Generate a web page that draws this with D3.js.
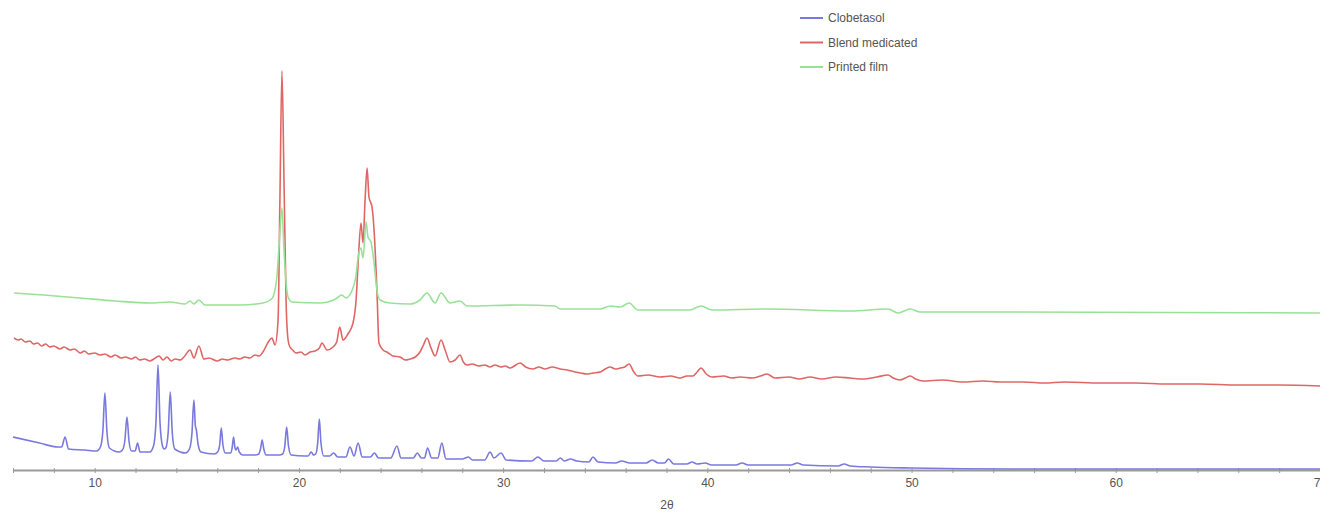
<!DOCTYPE html>
<html>
<head>
<meta charset="utf-8">
<script src="https://cdn.jsdelivr.net/npm/d3@7"></script>
<style>
	html, body { margin: 0; padding: 0; background: #fff; }
	svg { display: block; font-family: 'Liberation Sans', Arial, sans-serif; }
	.axis path, .axis line { stroke: #9a9a9a; }
	.axis text { fill: #555; font-size: 12px; }
</style>
</head>
<body>
<svg id="chart" width="1320" height="517"></svg>
<script>
// 2θ / intensity pairs
const clobetasol = [
	[6.0, 33], [7.3, 27], [8.2, 23], [8.38, 23], [8.55, 33], [8.72, 21], [9.5, 20], [10.1, 19],
	[10.28, 23], [10.4, 39], [10.5, 77], [10.6, 38], [10.72, 22], [11.2, 18],
	[11.36, 20], [11.48, 30], [11.58, 53], [11.68, 29], [11.8, 19],
	[11.98, 19], [12.1, 27], [12.22, 18], [12.7, 18],
	[12.88, 24], [13.0, 48], [13.1, 105], [13.2, 47], [13.32, 24], [13.4, 21],
	[13.48, 22], [13.6, 38], [13.7, 78], [13.8, 37], [13.92, 21], [14.45, 17],
	[14.64, 21], [14.76, 36], [14.86, 70], [14.93, 44], [14.98, 40], [15.06, 26], [15.2, 18],
	[15.85, 16], [16.02, 18], [16.12, 25], [16.2, 42], [16.28, 25], [16.4, 17],
	[16.65, 17], [16.73, 22], [16.8, 33], [16.87, 22], [16.92, 20], [17.0, 23], [17.08, 18],
	[17.25, 15], [17.85, 15], [18.03, 16], [18.12, 21], [18.2, 30], [18.28, 21], [18.4, 15],
	[19.05, 15], [19.2, 16], [19.31, 24], [19.4, 43], [19.49, 24], [19.62, 15],
	[20.3, 14], [20.45, 14], [20.6, 18], [20.72, 15], [20.82, 16], [20.92, 27], [21.0, 51],
	[21.08, 27], [21.22, 14], [21.5, 14], [21.7, 17], [21.9, 13], [22.3, 13], [22.5, 23],
	[22.7, 14], [22.9, 27], [23.1, 13], [23.5, 13], [23.7, 17], [23.9, 12], [24.5, 12],
	[24.8, 24], [25.0, 12], [25.6, 12], [25.8, 17], [26.0, 12], [26.15, 12], [26.3, 22],
	[26.5, 12], [26.8, 12], [27.0, 27], [27.2, 11], [28.0, 11], [28.3, 13], [28.5, 10],
	[29.1, 10], [29.36, 18], [29.55, 12], [29.9, 17], [30.15, 10], [31.4, 9], [31.7, 13],
	[32.0, 9], [32.6, 9], [32.8, 12], [33.0, 9], [33.3, 11], [33.6, 9], [34.2, 8],
	[34.4, 13], [34.65, 8], [35.5, 7], [35.8, 9], [36.2, 7], [37.0, 7], [37.3, 10],
	[37.6, 7], [37.9, 7], [38.1, 11], [38.35, 6], [39.0, 6], [39.25, 8], [39.5, 6],
	[39.9, 7], [40.2, 5], [41.4, 5], [41.7, 7], [42.0, 5], [44.1, 5], [44.4, 7], [44.7, 5],
	[46.4, 4], [46.7, 6], [47.0, 4], [48.0, 3], [50.0, 2], [55.0, 1], [60.0, 1], [70.0, 1]
];

const blendMedicated = [
	[6.05, 132], [6.25, 130], [6.4, 131], [6.6, 128], [6.83, 129], [7.0, 126], [7.2, 127],
	[7.4, 124], [7.6, 126], [7.8, 123], [8.0, 124], [8.3, 121], [8.5, 123], [8.8, 120],
	[9.0, 121], [9.3, 117], [9.5, 119], [9.7, 116], [10.0, 117], [10.26, 115], [10.5, 116],
	[10.8, 113], [11.0, 115], [11.3, 112], [11.5, 113], [11.8, 111], [12.0, 113],
	[12.2, 110], [12.45, 111], [12.7, 109], [12.9, 111], [13.15, 114], [13.35, 110],
	[13.54, 113], [13.75, 109], [13.93, 111], [14.2, 110], [14.37, 113], [14.67, 120],
	[14.86, 112], [15.1, 124], [15.35, 111], [15.6, 112], [16.0, 109], [16.25, 111],
	[16.5, 110], [16.87, 112], [17.1, 111], [17.35, 113], [17.6, 112], [17.85, 115],
	[18.05, 114], [18.24, 118], [18.5, 128], [18.68, 132], [18.83, 125], [18.98, 150],
	[19.07, 270], [19.17, 399], [19.27, 290], [19.37, 170], [19.47, 130], [19.56, 123],
	[19.7, 120], [19.86, 117], [20.1, 118], [20.3, 115], [20.55, 118], [20.79, 119],
	[21.0, 122], [21.13, 127], [21.38, 120], [21.67, 123], [21.85, 128], [22.0, 143],
	[22.16, 130], [22.4, 136], [22.65, 147], [22.8, 170], [22.9, 207], [23.04, 247],
	[23.14, 227], [23.24, 270], [23.34, 302], [23.43, 273], [23.58, 263], [23.68, 240],
	[23.82, 180], [23.92, 127], [24.12, 120], [24.31, 118], [24.6, 114], [24.95, 113],
	[25.2, 110], [25.44, 111], [25.7, 113], [25.93, 118], [26.1, 125], [26.27, 132],
	[26.47, 122], [26.67, 114], [26.96, 130], [27.16, 120], [27.4, 108], [27.65, 110],
	[27.89, 115], [28.05, 108], [28.23, 105], [28.5, 106], [28.8, 104], [29.1, 105],
	[29.36, 103], [29.6, 105], [29.9, 103], [30.1, 104], [30.34, 102], [30.83, 107],
	[31.1, 103], [31.46, 101], [31.75, 103], [32.05, 101], [32.4, 103], [32.79, 101],
	[33.15, 100], [33.52, 98], [33.8, 97], [34.1, 96], [34.4, 97], [34.75, 98],
	[35.0, 101], [35.24, 103], [35.5, 101], [35.73, 102], [35.95, 103], [36.17, 106],
	[36.4, 98], [36.6, 94], [37.1, 95], [37.68, 93], [38.2, 94], [38.66, 92], [39.0, 94],
	[39.3, 94], [39.5, 98], [39.69, 102], [39.95, 96], [40.23, 93], [40.8, 94], [41.2, 92],
	[41.6, 93], [42.2, 92], [42.6, 94], [42.92, 96], [43.31, 92], [44.0, 93], [44.5, 91],
	[45.03, 93], [45.6, 91], [46.3, 93], [46.99, 92], [47.6, 91], [48.3, 93], [48.85, 95],
	[49.1, 92], [49.44, 90], [49.7, 92], [49.93, 94], [50.2, 91], [50.56, 89], [51.5, 90],
	[52.5, 88], [53.5, 89], [54.33, 88], [55.5, 88], [56.5, 87], [57.5, 88], [59.23, 87],
	[61.0, 87], [62.5, 86], [64.13, 86], [66.0, 85], [68.0, 85], [70.0, 84]
];

const printedFilm = [
	[6.05, 177], [7.5, 175], [9.28, 172], [11.0, 169], [12.7, 167], [13.69, 168],
	[14.42, 166], [14.67, 169], [14.86, 166], [15.1, 170], [15.4, 165], [17.12, 165],
	[18.24, 167], [18.59, 170], [18.73, 173], [18.93, 195], [19.03, 225], [19.17, 262],
	[19.27, 220], [19.37, 188], [19.47, 173], [19.66, 168], [21.03, 167], [21.8, 171],
	[22.1, 175], [22.3, 172], [22.65, 182], [22.8, 195], [22.9, 213], [23.04, 222],
	[23.14, 212], [23.29, 248], [23.38, 233], [23.53, 228], [23.68, 207], [23.82, 180],
	[23.97, 170], [24.46, 167], [25.44, 166], [25.93, 170], [26.27, 177], [26.67, 167],
	[26.96, 177], [27.4, 167], [27.89, 169], [28.23, 164], [30.83, 165], [32.54, 164],
	[32.79, 161], [34.75, 161], [35.24, 164], [35.73, 163], [36.17, 167], [36.6, 160],
	[39.15, 160], [39.69, 164], [40.23, 160], [42.92, 161], [46.99, 159], [48.85, 161],
	[49.34, 157], [49.93, 161], [50.42, 158], [54.33, 158], [70.0, 157]
];

const seriesNames = ['Clobetasol', 'Blend medicated', 'Printed film'];
const seriesColors = ['#7a7ade', '#e06666', '#98e298'];
const xTicks = d3.range(6, 71, 2);
const xLabels = [10, 20, 30, 40, 50, 60, 70];

const svg = d3.select('#chart');
const x = d3.scaleLinear().domain([6, 70]).range([13, 1320]);
const y = d3.scaleLinear().domain([0, 400]).range([470, 70]);

const line = d3.line()
	.x(d => x(d[0]))
	.y(d => y(d[1]))
	.curve(d3.curveMonotoneX);

// axis
const axis = svg.append('g')
	.attr('class', 'axis')
	.attr('transform', 'translate(0,470)')
	.call(d3.axisBottom(x)
		.tickValues(xTicks)
		.tickSize(3)
		.tickSizeOuter(0)
		.tickFormat(d => xLabels.includes(d) ? d : ''));
axis.select('.domain').attr('stroke-width', 2);
axis.selectAll('.tick line').attr('stroke', '#666').attr('y1', -2);
axis.selectAll('.tick text').attr('dy', '0.95em');

svg.append('text')
	.attr('x', 667)
	.attr('y', 509)
	.attr('text-anchor', 'middle')
	.attr('fill', '#555')
	.attr('font-size', 12)
	.text('2θ');

// patterns, drawn bottom to top
[clobetasol, blendMedicated, printedFilm].forEach((data, i) => {
	svg.append('path')
		.datum(data)
		.attr('d', line)
		.attr('fill', 'none')
		.attr('stroke', seriesColors[i])
		.attr('stroke-width', 1.6)
		.attr('stroke-linejoin', 'round');
});

// legend
const legend = svg.append('g').attr('transform', 'translate(800,18)');
seriesNames.forEach((name, i) => {
	const row = legend.append('g').attr('transform', `translate(0,${i * 24.5})`);
	row.append('line')
		.attr('x1', 0).attr('x2', 23)
		.attr('stroke', seriesColors[i])
		.attr('stroke-width', 2);
	row.append('text')
		.attr('x', 28)
		.attr('dy', '0.35em')
		.attr('fill', '#555')
		.attr('font-size', 12)
		.text(name);
});
</script>
</body>
</html>
